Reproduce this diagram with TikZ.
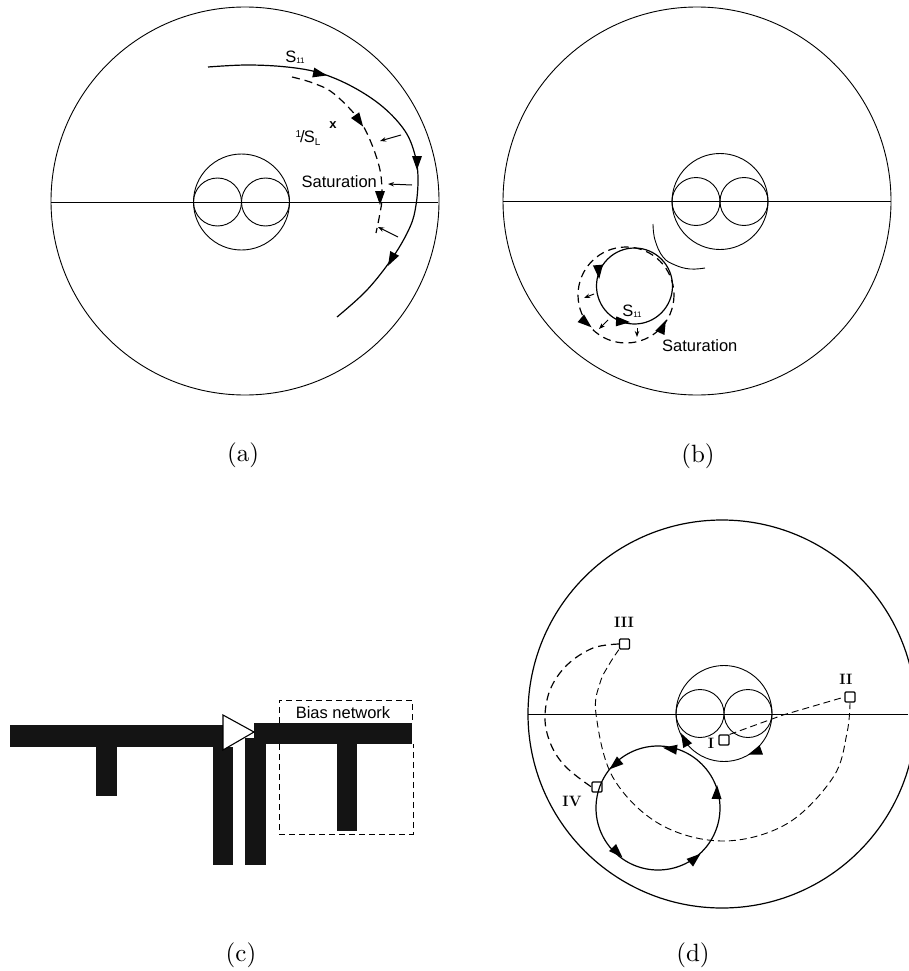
\documentclass[tikz,border=0pt]{standalone}
\usepackage{fontspec}
\setsansfont{Liberation Sans}
\newfontfamily\capfont{lmroman10-regular.otf}
\usetikzlibrary{arrows.meta}
\newcommand{\ahead}[3]{\fill[shift={(#1,#2)},rotate=#3] (-12,-5) -- (2,0) -- (-12,5) -- cycle;}
\newcommand{\smith}[3]{%
  \draw[ln] (#1,#2) circle[radius=48];
  \draw[ln] (#1-24,#2) circle[radius=24];
  \draw[ln] (#1+24,#2) circle[radius=24];
}
\newcommand{\sone}{S\raisebox{-1.5pt}{\fontsize{8}{8}\selectfont 11}}
\tikzset{
  ln/.style={line width=0.9pt,black},
  thick line/.style={line width=1.2pt,black},
  dsh/.style={line width=1.2pt,black,dash pattern=on 8pt off 5pt},
  dshfine/.style={line width=0.9pt,black,dash pattern=on 7pt off 4pt},
  small arrow/.style={line width=1pt,-{Stealth[length=6pt,width=4.5pt]}},
  lbl/.style={font=\fontsize{16.5}{18}\selectfont\sffamily,inner sep=0pt},
  captext/.style={font=\capfont\fontsize{25}{28}\selectfont,inner sep=0pt},
  roman/.style={font=\fontsize{15}{16}\selectfont\bfseries,inner sep=0pt},
  square/.style={draw,line width=1.1pt,fill=white,minimum size=10pt,inner sep=0pt,rounded corners=1pt},
  bar/.style={fill=black!92},
}
\begin{document}
\begin{tikzpicture}[x=1pt,y=-1pt]
\useasboundingbox[fill=white] (0,0) rectangle (908,971);

% ---------- (a)
\draw[ln] (245,201) circle[radius=194];
\draw[ln] (51,202) -- (438,202);
\smith{241.5}{202}{}
\draw[thick line] plot[smooth,tension=0.6] coordinates {(208,67) (247,65) (287,67) (320,73) (353,87) (383,107) (405,131) (415,155) (418,178) (416,205) (410,227) (393,257) (367,290) (337,317)};
\draw[dsh] plot[smooth,tension=0.6] coordinates {(292,77) (313,83) (333,93) (357,117) (370,140) (380,170) (382,197) (380,213) (376,233)};
\ahead{325}{75}{-12}
\ahead{417}{168}{-90}
\ahead{389}{264}{-118}
\ahead{362}{125}{-55}
\ahead{380}{203}{-90}
\draw[small arrow] (401,135) -- (380,141);
\draw[small arrow] (412,185) -- (388,184);
\draw[small arrow] (398,237) -- (378,227);
\node[lbl] (sa) at (295,57) {\sone};
\node[lbl,font=\fontsize{13}{14}\selectfont\sffamily\bfseries] (xa) at (333,125) {x};
\node[lbl] (sl) at (308,138) {\raisebox{5pt}{\fontsize{10}{10}\selectfont 1}\kern-1pt/\kern-1pt S\raisebox{-3pt}{\fontsize{10}{10}\selectfont L}};
\node[lbl,anchor=west] (sat) at (301.5,182) {Saturation};
\node[captext] (capa) at (243,455) {(a)};

% ---------- (b)
\draw[ln] (697,201) circle[radius=194];
\draw[ln] (503,201) -- (891,201);
\smith{720}{201.5}{}
\draw[thick line] (634.5,286) circle[radius=38];
\draw[ln] plot[smooth,tension=0.7] coordinates {(653,224) (655,240) (663,257) (675,265) (690,269) (705,268)};
\draw[dsh] (626,295) circle[radius=48];
\ahead{599}{277}{-85}
\ahead{628}{322}{-3}
\ahead{590}{326}{-40}
\ahead{665}{322}{65}
\draw[small arrow] (594,294) -- (584,298);
\draw[small arrow] (608,320) -- (599,329);
\draw[small arrow] (637,328) -- (637,337);
\node[lbl] (sb) at (632,311) {\sone};
\node[lbl,anchor=west] (satb) at (662,346) {Saturation};
\node[captext] (capb) at (698,456) {(b)};

% ---------- (c)
\fill[bar] (10,725) rectangle (223,747);
\fill[bar] (96,747) rectangle (117,796);
\fill[bar] (213,747) rectangle (233,865);
\fill[bar] (254,723) rectangle (412,744);
\fill[bar] (245,738) rectangle (266,865);
\fill[bar] (337,744) rectangle (357,831);
\draw[line width=1.1pt,fill=white] (223,715) -- (254,732) -- (223,750) -- cycle;
\draw[dsh,line width=1pt,dash pattern=on 6pt off 4pt] (279,723) -- (279,700) -- (412,700) -- (412,723);
\draw[dsh,line width=1pt,dash pattern=on 6pt off 4pt] (279,744) -- (279,834) -- (413,834) -- (413,744);
\node[lbl] (bias) at (343,713) {Bias network};
\node[captext] (capc) at (241,955) {(c)};

% ---------- (d)
\draw[thick line] (722,714) circle[radius=194];
\draw[ln] (528,714) -- (908,714);
\smith{724}{713.5}{}
\draw[thick line] (658,808) circle[radius=62];
\node[square] (III) at (624.5,644) {};
\node[square] (II) at (850,697) {};
\node[square] (I) at (724,740) {};
\node[square,fill=none] (IV) at (597,787) {};
\draw[dsh] plot[smooth,tension=0.6] coordinates {(III.west) (593,648) (567,665) (550,690) (545,720) (552,747) (567,768) (IV.west)};
\draw[dshfine] plot[smooth,tension=0.6] coordinates {(III.south west) (610,663) (600,683) (596,714) (613,777.5) (659.5,824) (723,841) (786.5,824) (833,777.5) (847,733) (II.south)};
\draw[dshfine] (I.north east) -- (783,715) -- (II.west);
\ahead{665}{748}{172}
\ahead{611}{768}{-140}
\ahead{621}{856}{-45}
\ahead{699}{855}{40}
\ahead{717}{787}{88}
\ahead{682}{735}{118}
\ahead{750}{754}{-160}
\node[roman] (t3) at (624,622) {III};
\node[roman] (t2) at (846,679) {II};
\node[roman] (t1) at (711,743) {I};
\node[roman] (t4) at (572,801) {IV};
\node[captext] (capd) at (693,955) {(d)};
\end{tikzpicture}
\end{document}
